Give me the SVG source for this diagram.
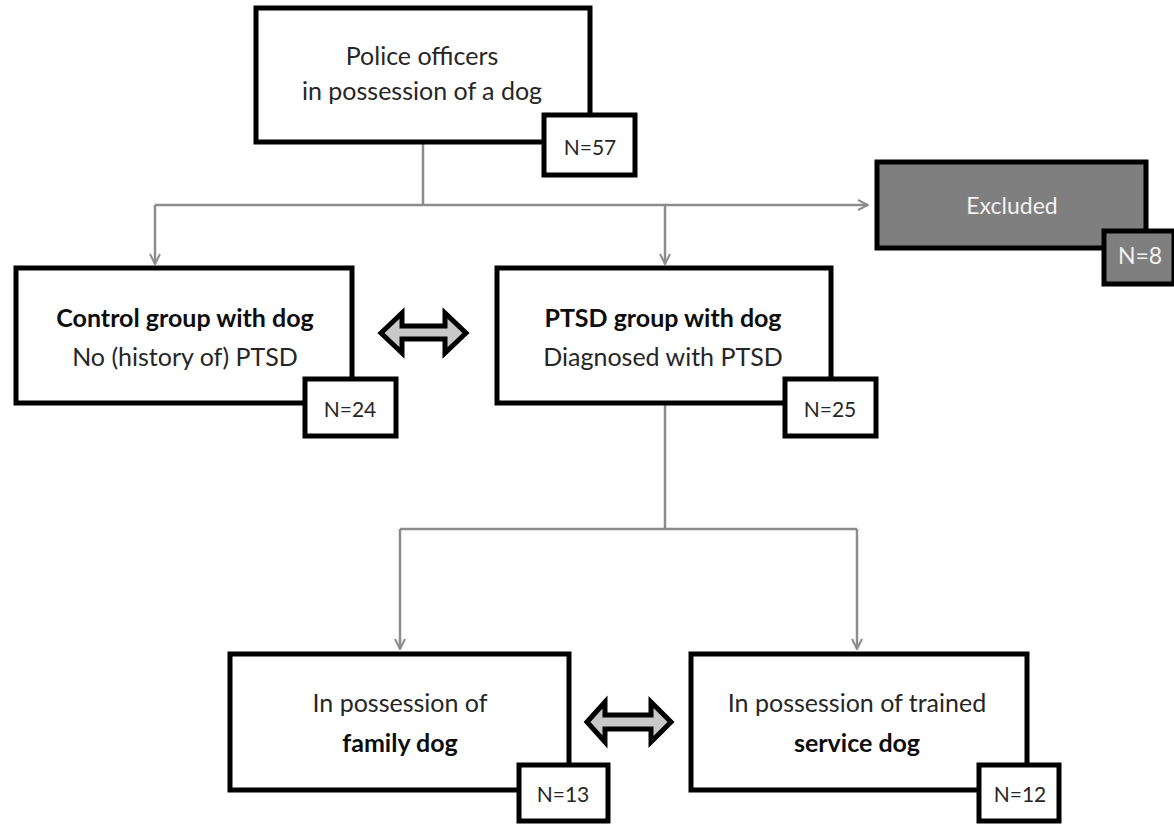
<svg xmlns="http://www.w3.org/2000/svg" width="1174" height="824" viewBox="0 0 1174 824">
<style>
.box{fill:#fff;stroke:#000;stroke-width:5}
.gbox{fill:#7f7f7f;stroke:#000;stroke-width:5}
.t{font-family:Lato,"Liberation Sans",sans-serif;font-size:25px;fill:#262626;text-anchor:middle}
.b{font-weight:bold;fill:#0d0d0d}
.w{fill:#f2f2f2}
.n{font-size:21px}
.e{font-size:23px}
.c{fill:none;stroke:#8c8c8c;stroke-width:2.5}
.dbl{fill:#c8c8c8;stroke:#000;stroke-width:5;stroke-linejoin:miter}
</style>
<defs>
<marker id="ah" viewBox="0 0 12 12" refX="11" refY="6" markerWidth="12" markerHeight="12" markerUnits="userSpaceOnUse" orient="auto">
<path d="M1,1 L11,6 L1,11" fill="none" stroke="#8c8c8c" stroke-width="2"/>
</marker>
</defs>
<rect width="1174" height="824" fill="#fff"/>
<g id="connectors">
<path class="c" d="M423,143 V205"/>
<path class="c" d="M155,205 H868" marker-end="url(#ah)"/>
<path class="c" d="M155,205 V264" marker-end="url(#ah)"/>
<path class="c" d="M665,205 V264" marker-end="url(#ah)"/>
<path class="c" d="M665,403 V529"/>
<path class="c" d="M400,529 H857"/>
<path class="c" d="M400,529 V649" marker-end="url(#ah)"/>
<path class="c" d="M857,529 V649" marker-end="url(#ah)"/>
</g>
<g id="arrow-top">
<path class="dbl" d="M381,333 L402,313 V326 H445 V313 L466,333 L445,353 V339 H402 V353 Z"/>
</g>
<g id="arrow-bottom">
<path class="dbl" d="M587,722 L605,702 V715 H651 V702 L671,722 L651,742 V729 H605 V742 Z"/>
</g>
<g id="police">
<rect class="box" x="256" y="8" width="334" height="134"/>
<text class="t" x="422" y="65">Police officers</text>
<text class="t" x="422" y="100">in possession of a dog</text>
<rect class="box" x="544" y="115" width="91" height="60"/>
<text class="t n" x="590" y="155">N=57</text>
</g>
<g id="excluded">
<rect class="gbox" x="877" y="162" width="269" height="86"/>
<text class="t w e" x="1012" y="214">Excluded</text>
<rect class="gbox" x="1104" y="231" width="70" height="53"/>
<text class="t w e" x="1140" y="264">N=8</text>
</g>
<g id="control">
<rect class="box" x="16" y="268" width="336" height="135"/>
<text class="t b" x="185" y="327">Control group with dog</text>
<text class="t" x="185" y="366">No (history of) PTSD</text>
<rect class="box" x="305" y="379" width="91" height="57"/>
<text class="t n" x="350" y="417">N=24</text>
</g>
<g id="ptsd">
<rect class="box" x="497" y="268" width="334" height="135"/>
<text class="t b" x="663" y="327">PTSD group with dog</text>
<text class="t" x="663" y="366">Diagnosed with PTSD</text>
<rect class="box" x="785" y="379" width="91" height="57"/>
<text class="t n" x="830" y="417">N=25</text>
</g>
<g id="family">
<rect class="box" x="230" y="654" width="339" height="136"/>
<text class="t" x="400" y="712">In possession of</text>
<text class="t b" x="400" y="752">family dog</text>
<rect class="box" x="519" y="765" width="89" height="56"/>
<text class="t n" x="563" y="802">N=13</text>
</g>
<g id="service">
<rect class="box" x="691" y="654" width="336" height="136"/>
<text class="t" x="857" y="712">In possession of trained</text>
<text class="t b" x="857" y="752">service dog</text>
<rect class="box" x="979" y="765" width="80" height="56"/>
<text class="t n" x="1020" y="802">N=12</text>
</g>
</svg>
